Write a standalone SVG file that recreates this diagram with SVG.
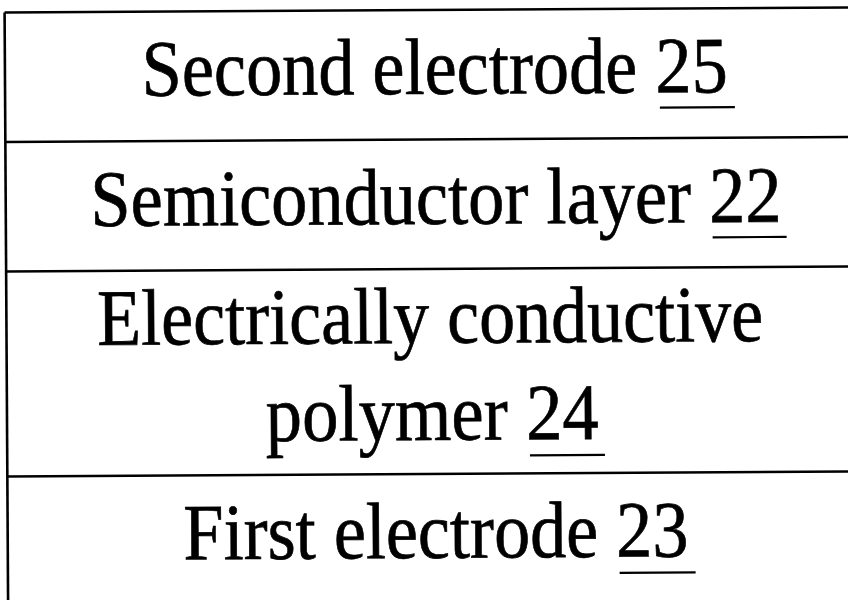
<svg xmlns="http://www.w3.org/2000/svg" width="848" height="600" viewBox="0 0 848 600">
<style>
.ln{stroke:#000;stroke-width:2.6;fill:none}
.ul{stroke:#000;stroke-width:2.2}
.t{font-family:"Liberation Serif","Times New Roman",serif;font-size:80px;fill:#000;stroke:#000;stroke-width:0.7}
</style>
<rect width="848" height="600" fill="#fff"/>
<g transform="rotate(-0.34 424 300)">
<g id="frame">
<line class="ln" x1="6.3" y1="10" x2="860" y2="10"/>
<line class="ln" x1="6.3" y1="10" x2="6.3" y2="612"/>
</g>
<g id="second-electrode">
<line class="ln" x1="6.3" y1="139.5" x2="860" y2="139.5"/>
<text class="t" x="143" y="94" textLength="586" lengthAdjust="spacingAndGlyphs">Second electrode 25</text>
<line class="ul" x1="661" y1="109" x2="736" y2="109"/>
</g>
<g id="semiconductor-layer">
<line class="ln" x1="6.3" y1="269" x2="860" y2="269"/>
<text class="t" x="91" y="224" textLength="691" lengthAdjust="spacingAndGlyphs">Semiconductor layer 22</text>
<line class="ul" x1="713" y1="239" x2="787" y2="239"/>
</g>
<g id="conductive-polymer">
<line class="ln" x1="6.3" y1="474" x2="860" y2="474"/>
<text class="t" x="97" y="343" textLength="666" lengthAdjust="spacingAndGlyphs">Electrically conductive</text>
<text class="t" x="265" y="440" textLength="333" lengthAdjust="spacingAndGlyphs">polymer 24</text>
<line class="ul" x1="529" y1="456" x2="604" y2="456"/>
</g>
<g id="first-electrode">
<text class="t" x="182" y="558" textLength="505" lengthAdjust="spacingAndGlyphs">First electrode 23</text>
<line class="ul" x1="618" y1="574" x2="694" y2="574"/>
</g>
</g>
</svg>
